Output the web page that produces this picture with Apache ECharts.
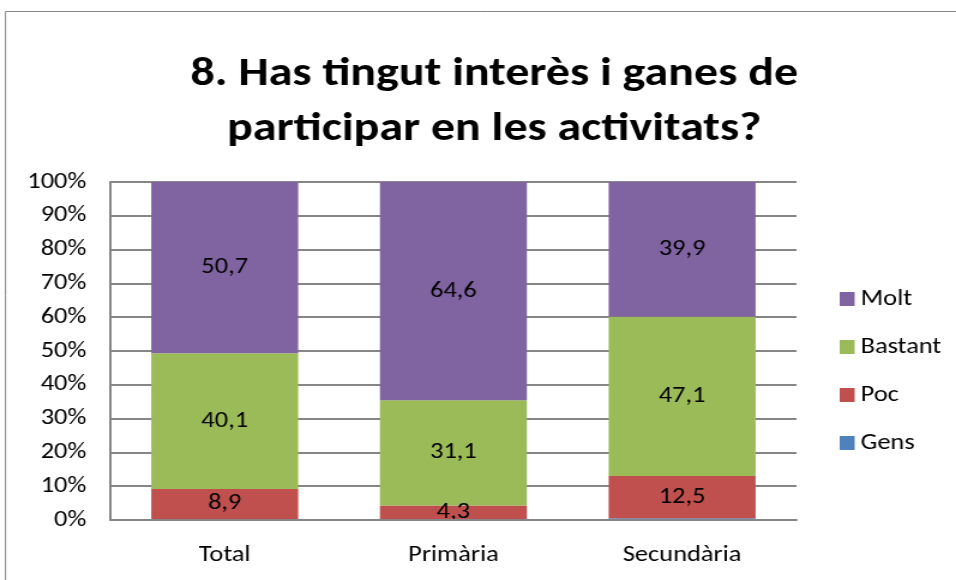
<!DOCTYPE html>
<html>
<head>
<meta charset="utf-8">
<script src="https://cdn.jsdelivr.net/npm/echarts@6/dist/echarts.min.js"></script>
<style>
  html, body { margin: 0; padding: 0; background: #fff; overflow: hidden; }
  /* the original picture is a stretched spreadsheet chart, so the canvas is widened the same way */
  #chart {
    width: 797px;
    height: 580px;
    transform: scaleX(1.1995);
    transform-origin: 0 0;
  }
</style>
</head>
<body>
<div id="chart"></div>
<script>
const categories = ["Total", "Primària", "Secundària"];
const gens = [0.3, 0, 0.5];
const poc = [8.9, 4.3, 12.5];
const bastant = [40.1, 31.1, 47.1];
const molt = [50.7, 64.6, 39.9];
const yTicks = [0, 10, 20, 30, 40, 50, 60, 70, 80, 90, 100];

const FONT = "Carlito, Calibri, 'Liberation Sans', sans-serif";
const GRID_COLOR = "#868686";

function fmt(v) {
  return String(v).replace(".", ",");
}

function makeSeries(name, data, color, showLabel) {
  return {
    name,
    type: "bar",
    stack: "total",
    data,
    barWidth: 122.5,
    itemStyle: { color },
    label: {
      show: showLabel,
      position: "inside",
      color: "#000",
      fontFamily: FONT,
      fontSize: 22,
      formatter: (p) => fmt(p.value),
    },
  };
}

const chart = echarts.init(document.getElementById("chart"), null, { renderer: "canvas" });

chart.setOption({
  backgroundColor: "#fff",
  animation: false,
  title: {
    text: "8. Has tingut interès i ganes de\nparticipar en les activitats?",
    left: 407,
    textAlign: "center",
    top: 42,
    textStyle: {
      fontFamily: FONT,
      fontWeight: "bold",
      fontSize: 40,
      lineHeight: 55,
      color: "#000",
    },
  },
  graphic: [
    {
      type: "polyline",
      shape: { points: [[4.6, 580], [4.6, 11.5], [797, 11.5]] },
      style: { stroke: GRID_COLOR, lineWidth: 1, fill: null },
      silent: true,
    },
  ],
  legend: {
    orient: "vertical",
    left: 695,
    top: 283,
    itemWidth: 12.5,
    itemHeight: 14,
    itemGap: 26,
    icon: "rect",
    data: ["Molt", "Bastant", "Poc", "Gens"],
    textStyle: { fontFamily: FONT, fontSize: 22, lineHeight: 22, color: "#000" },
  },
  grid: { left: 92, right: 133, top: 182, bottom: 60 },
  xAxis: {
    type: "category",
    data: categories,
    z: 5,
    axisLine: { lineStyle: { color: GRID_COLOR, width: 2 } },
    axisTick: { show: false },
    axisLabel: { fontFamily: FONT, fontSize: 22, color: "#000", margin: 24 },
  },
  yAxis: {
    type: "value",
    min: 0,
    max: 100,
    interval: 10,
    axisLine: { show: true, lineStyle: { color: GRID_COLOR, width: 2 } },
    axisTick: { show: false },
    splitLine: { lineStyle: { color: GRID_COLOR, width: 2 } },
    axisLabel: {
      fontFamily: FONT,
      fontSize: 22,
      color: "#000",
      margin: 20,
      formatter: (v) => (yTicks.includes(v) ? v + "%" : ""),
    },
  },
  series: [
    makeSeries("Gens", gens, "#4F81BD", false),
    makeSeries("Poc", poc, "#C0504D", true),
    makeSeries("Bastant", bastant, "#9BBB59", true),
    makeSeries("Molt", molt, "#8064A2", true),
  ],
});
</script>
</body>
</html>
